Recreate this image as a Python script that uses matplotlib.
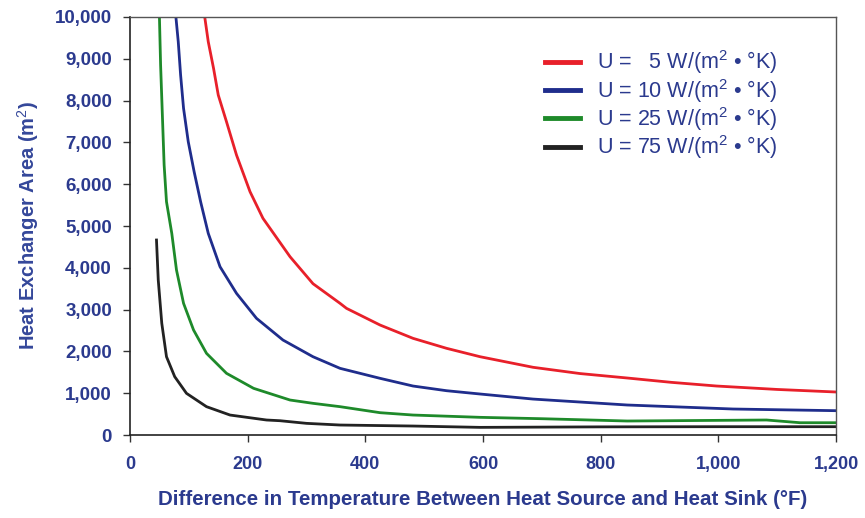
import numpy as np
import matplotlib
matplotlib.use("Agg")
from matplotlib import pyplot as plt
from matplotlib.ticker import FuncFormatter

# values
x_5  = [127, 133, 142, 150, 164, 181, 204, 226, 244, 272, 311, 357, 368, 425, 481, 538,
        595, 685, 765, 845, 920, 997, 1100, 1200]
y_5  = [10000, 9408, 8771, 8133, 7494, 6698, 5820, 5183, 4824, 4265, 3620, 3150, 3030, 2631,
        2313, 2074, 1873, 1620, 1470, 1364, 1260, 1172, 1090, 1029]

x_10 = [78, 82, 86, 91, 99, 109, 120, 133, 153, 181, 215, 260, 311, 357, 425, 481, 538,
        595, 685, 845, 1025, 1200]
y_10 = [10000, 9408, 8611, 7815, 7016, 6298, 5581, 4824, 4026, 3389, 2791, 2272, 1873, 1595,
        1356, 1172, 1060, 981, 860, 718, 622, 582]

x_25 = [50, 52, 55, 58, 62, 71, 79, 91, 108, 130, 164, 210, 272, 311, 357, 425, 481,
        595, 700, 845, 1082, 1139, 1200]
y_25 = [10000, 8850, 7654, 6458, 5581, 4824, 3947, 3150, 2512, 1954, 1476, 1117, 837, 758,
        678, 534, 478, 423, 390, 335, 359, 294, 294]

x_75 = [45, 48, 54, 62, 76, 96, 130, 170, 232, 255, 300, 357, 481, 595, 800, 1000, 1200]
y_75 = [4665, 3708, 2672, 1873, 1395, 997, 678, 478, 359, 342, 279, 239, 215, 183, 195, 199, 199]

labels = ["U =   5 W/(m$^2$ • °K)",
          "U = 10 W/(m$^2$ • °K)",
          "U = 25 W/(m$^2$ • °K)",
          "U = 75 W/(m$^2$ • °K)"]
colors = ["#e8202a", "#1f2d8c", "#1e8a2a", "#222222"]

txtc = "#2b3a8e"
plt.rcParams["font.family"] = ["Liberation Sans", "DejaVu Sans"]
plt.rcParams["mathtext.fontset"] = "custom"
plt.rcParams["mathtext.rm"] = "Liberation Sans"

fig = plt.figure(figsize=(8.65, 5.18), dpi=100)
ax = fig.add_axes([0.1503, 0.1602, 0.8162, 0.807])

series = [(x_5, y_5), (x_10, y_10), (x_25, y_25), (x_75, y_75)]
for (xs, ys), c, lab in zip(series, colors, labels):
    ax.plot(xs, ys, color=c, lw=2.0, label=lab)

ax.set_xlim(0, 1200)
ax.set_ylim(0, 10000)
ax.set_xticks(np.arange(0, 1201, 200))
ax.set_yticks(np.arange(0, 10001, 1000))
fmt = FuncFormatter(lambda v, p: "{:,.0f}".format(v))
ax.xaxis.set_major_formatter(fmt)
ax.yaxis.set_major_formatter(fmt)
ax.tick_params(direction="out", length=5, width=1, colors="#333333", labelcolor=txtc)
ax.tick_params(axis="x", pad=10, labelsize=13)
ax.tick_params(axis="y", pad=8, labelsize=13.5)
for lab in ax.get_xticklabels() + ax.get_yticklabels():
    lab.set_fontweight("bold")
for s in ["left", "bottom"]:
    ax.spines[s].set_color("#222222")
    ax.spines[s].set_linewidth(1.2)
for s in ["top", "right"]:
    ax.spines[s].set_color("#555555")
    ax.spines[s].set_linewidth(1.0)

ax.set_ylabel("Heat Exchanger Area (m$^2$)", color="#34479a", fontsize=14.5,
              fontweight="bold", labelpad=10)
ax.set_xlabel("Difference in Temperature Between Heat Source and Heat Sink (°F)",
              color=txtc, fontsize=14.8, fontweight="bold", labelpad=12)

leg = ax.legend(loc="upper left", bbox_to_anchor=(0.588, 0.925), frameon=False,
                borderpad=0, borderaxespad=0, fontsize=15.5, handlelength=1.6,
                labelspacing=0.02, handletextpad=0.8)
for t in leg.get_texts():
    t.set_color(txtc)
for h in leg.get_lines():
    h.set_linewidth(3.5)

fig.savefig("out.png", dpi=100)
